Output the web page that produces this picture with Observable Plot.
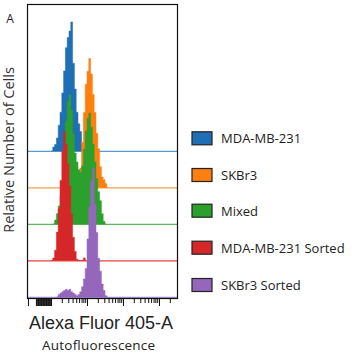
<!DOCTYPE html>
<html><head><meta charset="utf-8">
<script src="https://cdn.jsdelivr.net/npm/d3@7"></script>
<script src="https://cdn.jsdelivr.net/npm/@observablehq/plot@0.6"></script>
<style>
body{margin:0;background:#fff;}
#wrap{position:relative;width:354px;height:353px;overflow:hidden;background:#fff;}
#wrap svg{position:absolute;left:0;top:0;}
</style></head><body><div id="wrap"></div>
<script>
// ---- data ----
const seriesNames = ["MDA-MB-231", "SKBr3", "Mixed", "MDA-MB-231 Sorted", "SKBr3 Sorted"];
const fillColors = ["#1f6fb4", "#ff7f0e", "#2ca02c", "#d62728", "#9467bd"];
const baselineColors = ["#5b9bd5", "#f8a04c", "#5cb85c", "#e5403f", "#a88fd2"];
// histogram bins on log10(Alexa Fluor 405-A) axis
const binStart = 2.0;
const binWidth = 0.05;
const blueFirstBin = 0;
const blueCounts = [0, 3, 5, 10, 20, 30, 45, 62, 80, 88, 93, 100, 68, 48, 30, 21, 15, 5, 0];
const orangeFirstBin = 14;
const orangeCounts = [0, 3, 15, 35, 58, 80, 90, 100, 88, 72, 58, 42, 30, 16, 8, 6, 3, 0];
const greenFirstBin = 1;
const greenCounts = [0, 3, 8, 14, 22, 32, 50, 80, 95, 100, 88, 70, 55, 48, 42, 40, 45, 58, 72, 82, 86, 75, 62, 48, 35, 25, 18, 8, 2, 0];
const redFirstBin = 0;
const redCounts = [0, 2, 8, 22, 40, 62, 85, 100, 90, 75, 58, 36, 18, 7, 1, 0, 0, 0, 2, 0];
const purpleFirstBin = 3;
const purpleCounts = [0, 2, 3, 4, 5, 6, 5, 6, 4, 3, 2, 1, 2, 4, 8, 14, 22, 45, 70, 90, 100, 72, 50, 30, 20, 10, 5, 1, 0];
const firstBins = [blueFirstBin, orangeFirstBin, greenFirstBin, redFirstBin, purpleFirstBin];
const allCounts = [blueCounts, orangeCounts, greenCounts, redCounts, purpleCounts];
// axis ticks (log10 units)
const majorTicks = [1.36, 2, 3, 4, 5];
const minorTicks = [2.30, 2.48, 2.60, 2.70, 2.78, 2.85, 2.90, 2.95,
                    3.30, 3.48, 3.60, 3.70, 3.78, 3.85, 3.90, 3.95,
                    4.30, 4.48, 4.60, 4.70, 4.78, 4.85, 4.90, 4.95, 5.30];
const crowdedTicks = [1.58, 1.60, 1.62, 1.64, 1.66, 1.68, 1.70, 1.72, 1.74, 1.76, 1.78,
                      1.80, 1.82, 1.84, 1.86, 1.88, 1.90, 1.92, 1.94, 1.96, 1.98, 2.0];
const xDomain = [1.3333, 5.5];
const rowStep = 28.3;

// ---- build ----
const marks = [];
seriesNames.forEach((name, s) => {
  const offset = (seriesNames.length - 1 - s) * rowStep;
  const rows = allCounts[s].map((c, i) => ({
    x: binStart + binWidth * (firstBins[s] + i) + binWidth / 2,
    y1: offset, y2: offset + c
  }));
  marks.push(Plot.ruleY([offset], {stroke: baselineColors[s], strokeWidth: 1.3}));
  marks.push(Plot.areaY(rows, {x: "x", y1: "y1", y2: "y2", curve: "step",
    fill: fillColors[s], stroke: fillColors[s], strokeWidth: 0.5}));
});
marks.push(Plot.frame({stroke: "#111", strokeWidth: 1.2}));
marks.push(Plot.axisX(majorTicks, {anchor: "bottom", tickSize: 8, tickFormat: () => "", label: null, stroke: "#111"}));
marks.push(Plot.axisX(minorTicks, {anchor: "bottom", tickSize: 5, tickFormat: () => "", label: null, stroke: "#111"}));
marks.push(Plot.axisX(crowdedTicks, {anchor: "bottom", tickSize: 8, tickFormat: () => "", label: null, stroke: "#111"}));

const chart = Plot.plot({
  width: 354, height: 312,
  marginLeft: 27, marginRight: 177, marginTop: 4, marginBottom: 14,
  x: {domain: xDomain, axis: null},
  y: {domain: [-0.8, 227.1], axis: null},
  style: {background: "transparent", overflow: "visible"},
  marks
});
const wrap = document.getElementById("wrap");
wrap.appendChild(chart);

// ---- text & legend overlay ----
const ov = d3.select(wrap).append("svg").attr("width", 354).attr("height", 353);
ov.append("text").attr("x", 10).attr("y", 23).attr("text-anchor", "middle")
  .attr("font-family", "Open Sans").attr("font-size", 12).attr("fill", "#222").text("A");
ov.append("text").attr("transform", "translate(13.5,150) rotate(-90)").attr("text-anchor", "middle")
  .attr("font-family", "Open Sans").attr("font-size", 14.5).attr("fill", "#333").text("Relative Number of Cells");
ov.append("text").attr("x", 101).attr("y", 329).attr("text-anchor", "middle")
  .attr("font-family", "Liberation Sans").attr("font-size", 18).attr("fill", "#222").text("Alexa Fluor 405-A");
ov.append("text").attr("x", 98.7).attr("y", 350).attr("text-anchor", "middle")
  .attr("font-family", "Open Sans").attr("font-size", 13.5).attr("letter-spacing", 0.2)
  .attr("fill", "#222").text("Autofluorescence");
const legendY = [138.3, 175, 210.7, 247.7, 285];
seriesNames.forEach((name, s) => {
  ov.append("rect").attr("x", 192).attr("y", legendY[s] - 6.5).attr("width", 20).attr("height", 13)
    .attr("fill", fillColors[s]).attr("stroke", "#222").attr("stroke-width", 1.2);
  ov.append("text").attr("x", 221).attr("y", legendY[s] + 5)
    .attr("font-family", "Open Sans").attr("font-size", 13)
    .attr("fill", "#222").text(name);
});
</script>
</body></html>
